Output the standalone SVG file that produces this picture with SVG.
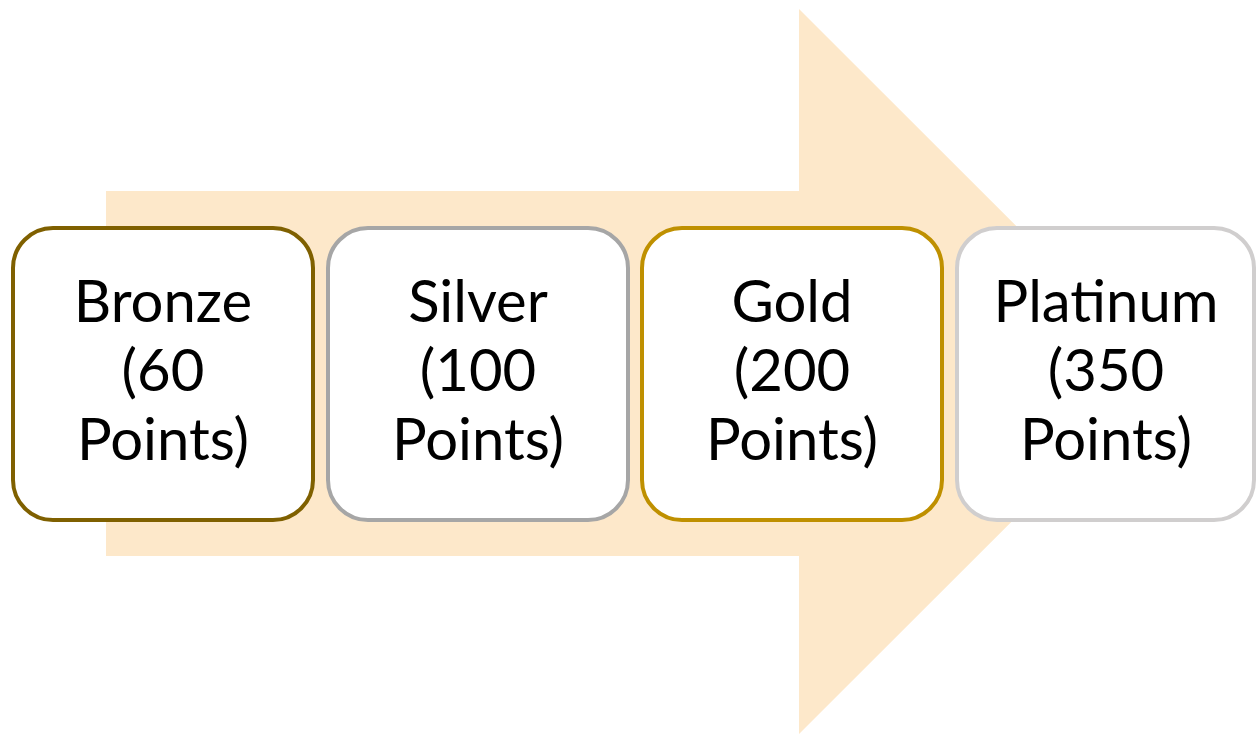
<svg xmlns="http://www.w3.org/2000/svg" width="1257" height="734" viewBox="0 0 1257 734">
<style>
.box{fill:#ffffff;stroke-width:4}
.lbl{font-family:Lato,"Liberation Sans",sans-serif;font-size:58px;fill:#000000;text-anchor:middle}
</style>
<rect width="1257" height="734" fill="#ffffff"/>
<g id="arrow">
<polygon points="106,191 799,191 799,9 1162,371.5 799,734 799,556 106,556" fill="#FDE8CA"/>
</g>
<g id="connectors"></g>
<g id="bronze">
<rect class="box" x="13" y="228" width="300" height="292" rx="40" stroke="#7F6000"/>
<text class="lbl" x="163" y="322">Bronze</text>
<text class="lbl" x="163" y="391">(60</text>
<text class="lbl" x="163" y="460">Points)</text>
</g>
<g id="silver">
<rect class="box" x="328" y="228" width="300" height="292" rx="40" stroke="#A6A6A6"/>
<text class="lbl" x="478" y="322">Silver</text>
<text class="lbl" x="478" y="391">(100</text>
<text class="lbl" x="478" y="460">Points)</text>
</g>
<g id="gold">
<rect class="box" x="642" y="228" width="300" height="292" rx="40" stroke="#BF9000"/>
<text class="lbl" x="792" y="322">Gold</text>
<text class="lbl" x="792" y="391">(200</text>
<text class="lbl" x="792" y="460">Points)</text>
</g>
<g id="platinum">
<rect class="box" x="957" y="228" width="297" height="292" rx="40" stroke="#D0CECE"/>
<text class="lbl" x="1106" y="322">Platinum</text>
<text class="lbl" x="1106" y="391">(350</text>
<text class="lbl" x="1106" y="460">Points)</text>
</g>
</svg>
